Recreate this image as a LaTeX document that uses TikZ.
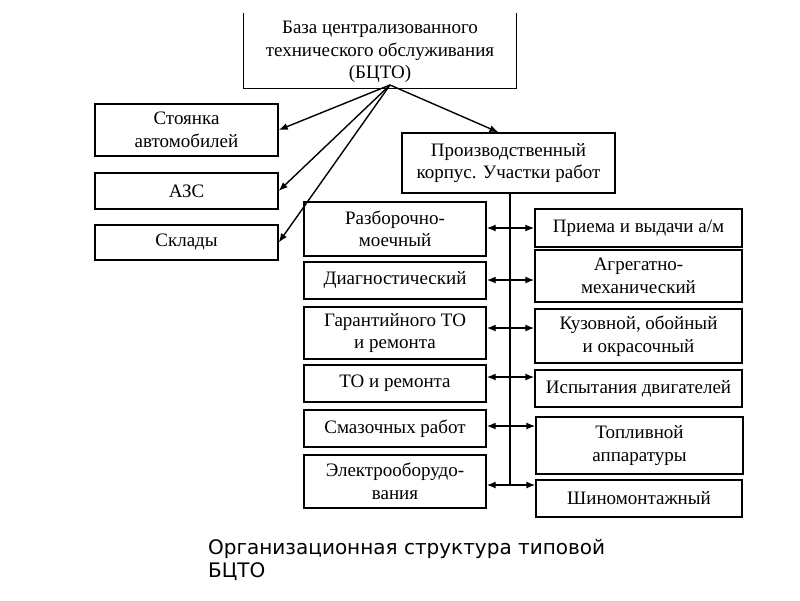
\documentclass[tikz,border=0pt]{standalone}
\usepackage{fontspec}
\setmainfont{Liberation Serif}
\newfontfamily\capfont{DejaVu Sans}
\usetikzlibrary{arrows.meta}

\begin{document}
\begin{tikzpicture}[x=1pt,y=-1pt,
    box/.style={draw,line width=1.4pt,align=center,inner sep=0pt,font=\fontsize{19}{22.5}\selectfont},
    link/.style={line width=1.4pt,-{Latex[length=9pt,width=7pt]}},
    both/.style={line width=1.4pt,{Latex[length=9pt,width=7pt]}-{Latex[length=9pt,width=7pt]}}]
    \useasboundingbox (0,0) rectangle (800,600);

    % head, its top edge is cut off
    \node[box,draw=none,minimum width=272pt,minimum height=71pt] (bcto) at (380,52) {База централизованного\\технического обслуживания\\(БЦТО)};
    \draw[line width=1.4pt] (bcto.west |- 0,13) -- (bcto.south west) -- (bcto.south east) -- (bcto.east |- 0,13);

    \node[box,minimum width=183pt,minimum height=52pt] (park) at (186.5,130) {Стоянка\\автомобилей};
    \node[box,minimum width=183pt,minimum height=36pt] (azs) at (186.5,191) {АЗС};
    \node[box,minimum width=183pt,minimum height=35pt] (store) at (186.5,242.5) {Склады};
    \node[box,minimum width=213pt,minimum height=60pt] (prod) at (508.5,163) {Производственный\\корпус. Участки работ};

    % left column
    \node[box,minimum width=182pt,minimum height=54pt] (l1) at (395,229) {Разборочно-\\моечный};
    \node[box,minimum width=182pt,minimum height=37pt] (l2) at (395,280.5) {Диагностический};
    \node[box,minimum width=182pt,minimum height=52pt] (l3) at (395,333) {Гарантийного ТО\\и ремонта};
    \node[box,minimum width=182pt,minimum height=37pt] (l4) at (395,383.5) {ТО и ремонта};
    \node[box,minimum width=182pt,minimum height=37pt] (l5) at (395,428.5) {Смазочных работ};
    \node[box,minimum width=182pt,minimum height=53pt] (l6) at (395,481.5) {Электрооборудо-\\вания};

    % right column
    \node[box,minimum width=207pt,minimum height=38pt] (r1) at (638.5,228) {Приема и выдачи а/м};
    \node[box,minimum width=207pt,minimum height=52pt] (r2) at (638.5,276) {Агрегатно-\\механический};
    \node[box,minimum width=207pt,minimum height=54pt] (r3) at (638.5,336) {Кузовной, обойный\\и окрасочный};
    \node[box,minimum width=207pt,minimum height=37pt] (r4) at (638.5,388.5) {Испытания двигателей};
    \node[box,minimum width=207pt,minimum height=57pt] (r5) at (639.5,445.5) {Топливной\\аппаратуры};
    \node[box,minimum width=206pt,minimum height=37pt] (r6) at (639,498.5) {Шиномонтажный};

    \coordinate (hub) at (390,85);
    \foreach \t in {park,azs,store}{
        \draw[link] (hub) -- (\t.east);
    }
    \draw[link] (hub) -- ([xshift=-10pt]prod.north);

    \coordinate (s6) at (510,485);
    \draw[line width=1.4pt] (prod.south -| s6) -- (s6);
    \foreach \i/\y in {1/228,2/280,3/328,4/377,5/426,6/485}{
        \draw[both] (l\i.east |- 0,\y) -- (r\i.west |- 0,\y);
    }

    \node[anchor=north west,inner sep=0pt,align=left,font=\capfont\fontsize{20}{23}\selectfont] (caption) at (208,539) {Организационная структура типовой\\БЦТО};

\end{tikzpicture}
\end{document}
